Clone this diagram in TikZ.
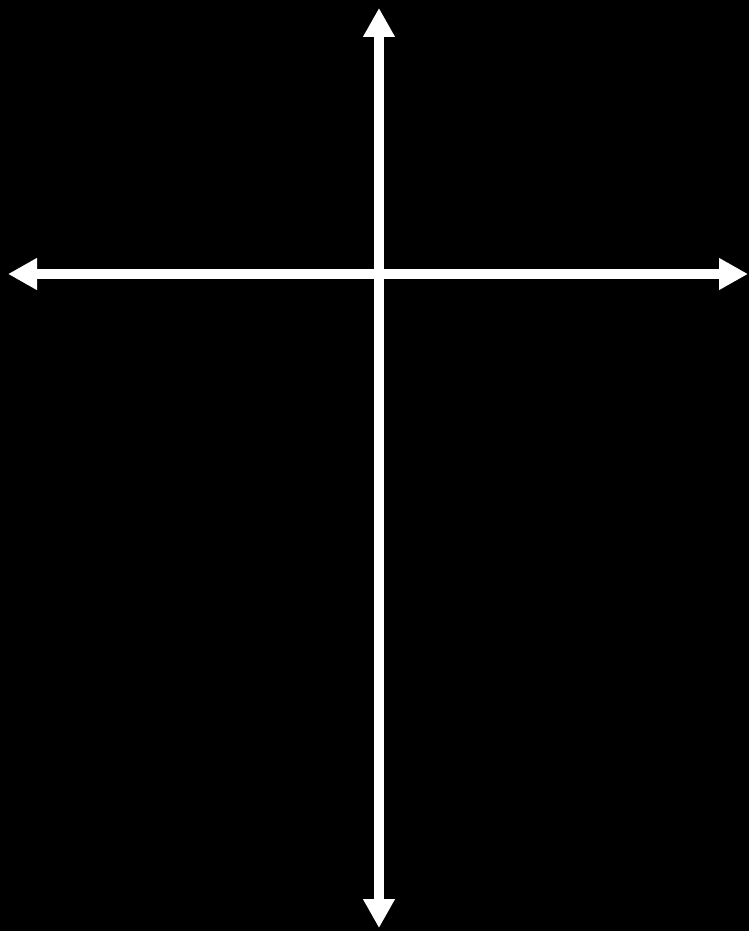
\documentclass[tikz,border=0pt]{standalone}
\usepackage{tikz}
\usepackage{xcolor}
\usetikzlibrary{arrows.meta}
\definecolor{axiswhite}{RGB}{255,255,255}

\begin{document}
\begin{tikzpicture}[x=1pt, y=-1pt]
            \tikzset{axisline/.style={draw=axiswhite, line width=10pt, {Triangle[length=29pt, width=30pt]}-{Triangle[length=29pt, width=30pt]}}}
            % background
            \fill[black] (0,0) rectangle (749,931);
            \useasboundingbox (0,0) rectangle (749,931);

            \coordinate (top) at (379,8);
            \coordinate (bottom) at (379,928);
            \coordinate (left) at (8,274);
            \coordinate (right) at (748,274);

            \draw[axisline] (left) -- (right);
            \draw[axisline] (top) -- (bottom);
        \end{tikzpicture}
\end{document}
